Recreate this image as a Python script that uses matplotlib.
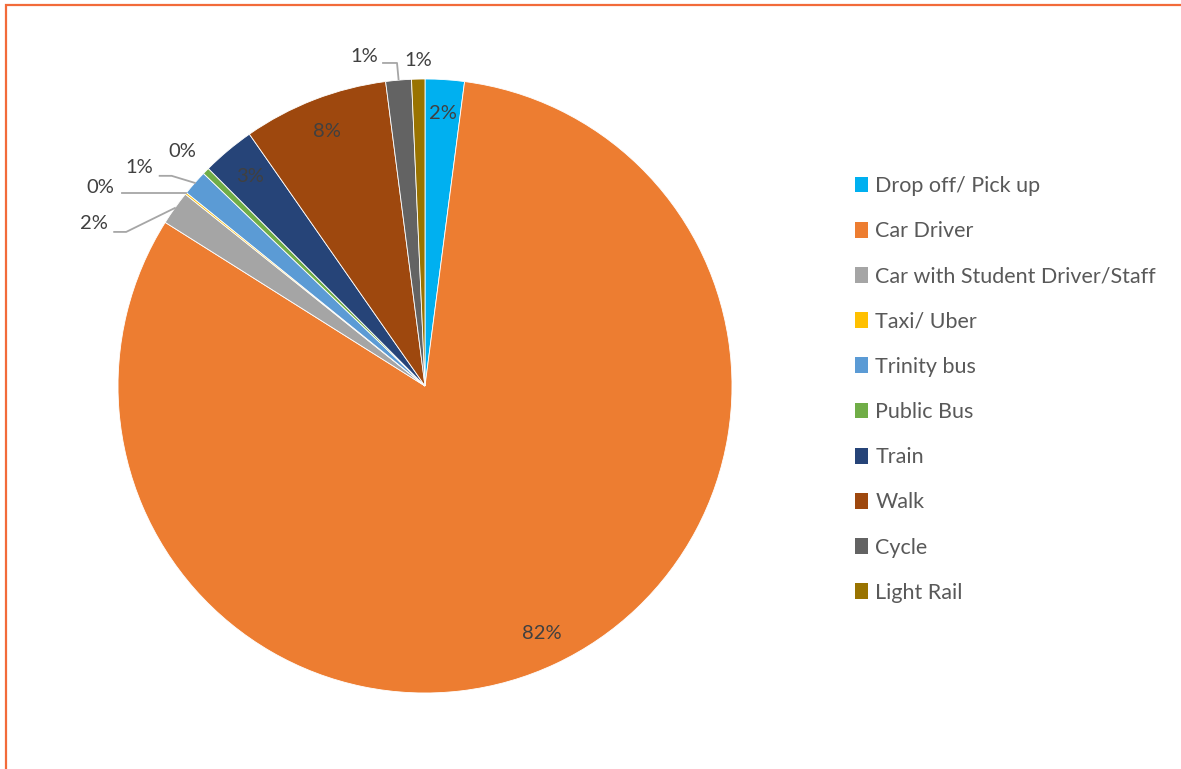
import numpy as np
import matplotlib
matplotlib.use("Agg")
import matplotlib.pyplot as plt
from matplotlib.patches import Rectangle

# Travel mode shares (%)
modes = ['Drop off/ Pick up', 'Car Driver', 'Car with Student Driver/Staff',
         'Taxi/ Uber', 'Trinity bus', 'Public Bus', 'Train', 'Walk',
         'Cycle', 'Light Rail']
shares = [2.06, 81.96, 1.80, 0.10, 1.33, 0.36, 2.78, 7.65, 1.35, 0.70]
colors = ['#00B0F0', '#ED7D31', '#A5A5A5', '#FFC000', '#5B9BD5',
          '#70AD47', '#264478', '#9E480E', '#636363', '#997300']

W, H = 1181, 769
fig = plt.figure(figsize=(W / 100, H / 100), dpi=100)
ax = fig.add_axes([0, 0, 1, 1])

cx, cy, R = 425, H - 386, 307
wedges, _ = ax.pie(shares, colors=colors, startangle=90, counterclock=False,
                   center=(cx, cy), radius=R, frame=True,
                   wedgeprops=dict(edgecolor='white', linewidth=0.6))
ax.set_xlim(0, W)
ax.set_ylim(0, H)
ax.set_aspect('equal')
ax.axis('off')

label_color = '#404040'
font = 'Lato'
fs = 14.5
leg_fs = 15.5

def pol(angle_deg, r):
    # angle measured clockwise from the top
    a = np.radians(angle_deg)
    return cx + r * np.sin(a), cy + r * np.cos(a)

total = sum(shares)
cum = np.cumsum([0] + shares) / total * 360
mids = (cum[:-1] + cum[1:]) / 2

# label placement: 'in' -> inside at 0.89R, otherwise (angle, radius factor, leader)
placement = {
    0: ('in',), 1: ('in',), 6: ('in',), 7: ('in',),
    2: ('out', -63.9, 1.20, 'elbow'),
    3: ('out', -58.6, 1.24, 'straight'),
    4: ('out', -52.6, 1.17, 'elbow'),
    5: ('out', -46.0, 1.10, None),
    8: ('out', -10.5, 1.09, 'elbow'),
    9: ('out', -1.2, 1.06, None),
}

for i, v in enumerate(shares):
    txt = f'{round(v / total * 100):.0f}%'
    p = placement[i]
    if p[0] == 'in':
        x, y = pol(mids[i], 0.89 * R)
        ax.text(x, y, txt, ha='center', va='center', color=label_color,
                fontsize=fs, family=font)
        continue
    _, ang, rf, leader = p
    x, y = pol(ang, rf * R)
    ax.text(x, y, txt, ha='center', va='center', color=label_color,
            fontsize=fs, family=font)
    ex, ey = pol(mids[i], R)
    if leader == 'straight':
        ax.plot([x + 22, ex], [ey, ey], color='#A6A6A6', lw=1.3)
    elif leader == 'elbow':
        if i == 8:
            ax.plot([x + 19, x + 33, ex], [y - 6, y - 6, ey + 1],
                    color='#A6A6A6', lw=1.3)
        else:
            ly = y - 8
            ax.plot([x + 20, x + 32, ex], [ly, ly, ey], color='#A6A6A6', lw=1.3)

leg = ax.legend(wedges, modes, loc='upper left', bbox_to_anchor=(855 / W, 1 - 176 / H),
                frameon=False, prop=dict(family=font, size=leg_fs),
                handlelength=0.62, handleheight=0.75, handletextpad=0.33,
                labelspacing=1.17, borderaxespad=0, borderpad=0)
for t in leg.get_texts():
    t.set_color('#595959')
for h in leg.legend_handles:
    h.set_edgecolor('none')

# outer border of the chart area
fig.patches.append(Rectangle((6, -20), W + 20, H - 5 + 20, transform=None,
                             fill=False, edgecolor='#F26B3A', linewidth=1.6))

fig.savefig('out.png', dpi=100)
